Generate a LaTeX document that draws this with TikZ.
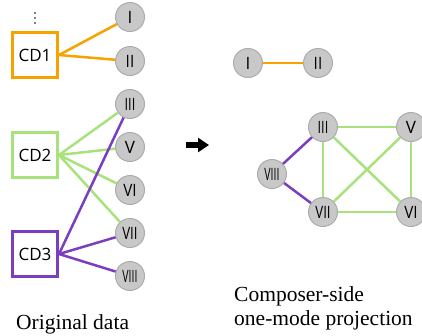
\documentclass[tikz,border=0pt]{standalone}
\usepackage{fontspec}
\setmainfont{Liberation Serif}
\newfontfamily\labelfont{Open Sans}
\usepackage{graphicx}
\usetikzlibrary{arrows.meta}

\definecolor{cdorange}{RGB}{247,162,0}
\definecolor{cdgreen}{RGB}{168,226,122}
\definecolor{cdpurple}{RGB}{122,62,190}
\definecolor{vfill}{RGB}{200,200,200}
\definecolor{vline}{RGB}{172,172,172}
% squeeze roman numerals so the long ones fit the discs
\newcommand{\rnum}[2][1]{\scalebox{#1}[1]{#2}}

\begin{document}
\begin{tikzpicture}[x=1pt, y=-1pt]
    \tikzset{vertex/.style={circle, draw=vline, fill=vfill, line width=1pt,
        minimum size=29pt, inner sep=0pt,
        font=\labelfont\fontsize{17}{17}\selectfont},
      cdbox/.style={rectangle, draw=#1, line width=3pt, minimum size=45pt,
        font=\labelfont\fontsize{17}{17}\selectfont},
      link/.style={draw=#1, line width=2.5pt},
      caption/.style={anchor=base west, inner sep=0pt,
        font=\fontsize{21.5}{24}\selectfont}}
    \useasboundingbox (0,0) rectangle (422,335);

    % left: CDs and the works on them
    \node[cdbox=cdorange] (CD1) at (35,55) {CD1};
    \node[cdbox=cdgreen] (CD2) at (35,155) {CD2};
    \node[cdbox=cdpurple] (CD3) at (35,254) {CD3};
    \foreach \y in {13,18,23}
      \fill (35,\y) circle (0.9);

    \node[vertex] (l1) at (130,17) {\rnum{I}};
    \node[vertex] (l2) at (130,61) {\rnum[0.9]{II}};
    \node[vertex] (l3) at (130,104) {\rnum[0.75]{III}};
    \node[vertex] (l5) at (130,147) {\rnum{V}};
    \node[vertex] (l6) at (130,190) {\rnum[0.9]{VI}};
    \node[vertex] (l7) at (130,233) {\rnum[0.78]{VII}};
    \node[vertex] (l8) at (130,276) {\rnum[0.62]{VIII}};

    \draw[link=cdorange] (CD1.east) -- (l1);
    \draw[link=cdorange] (CD1.east) -- (l2);
    \foreach \w in {l3,l5,l6,l7}
      \draw[link=cdgreen] (CD2.east) -- (\w);
    \foreach \w in {l3,l7,l8}
      \draw[link=cdpurple] (CD3.east) -- (\w);

    % projection arrow
    \coordinate (arrtail) at (186,145);
    \coordinate (arrtip) at (209,145);
    \draw[line width=6pt, -{Triangle[length=11pt,width=14pt]}] (arrtail) -- (arrtip);

    % right: works linked when they share a CD
    \node[vertex] (r1) at (248,63) {\rnum{I}};
    \node[vertex] (r2) at (318,63) {\rnum[0.9]{II}};
    \node[vertex] (r3) at (323,127) {\rnum[0.75]{III}};
    \node[vertex] (r5) at (411,127) {\rnum{V}};
    \node[vertex] (r8) at (272,174) {\rnum[0.62]{VIII}};
    \node[vertex] (r7) at (323,212) {\rnum[0.78]{VII}};
    \node[vertex] (r6) at (411,212) {\rnum[0.9]{VI}};

    \draw[link=cdorange] (r1) -- (r2);
    \draw[link=cdgreen] (r3) -- (r5);
    \draw[link=cdgreen] (r3) -- (r7);
    \draw[link=cdgreen] (r3) -- (r6);
    \draw[link=cdgreen] (r5) -- (r7);
    \draw[link=cdgreen] (r5) -- (r6);
    \draw[link=cdgreen] (r7) -- (r6);
    \draw[link=cdpurple] (r8) -- (r3);
    \draw[link=cdpurple] (r8) -- (r7);

    \node[caption] (orig) at (16,329) {Original data};
    \node[caption] (projA) at (234,301) {Composer-side};
    \node[caption] (projB) at (234,325) {one-mode projection};
\end{tikzpicture}
\end{document}
